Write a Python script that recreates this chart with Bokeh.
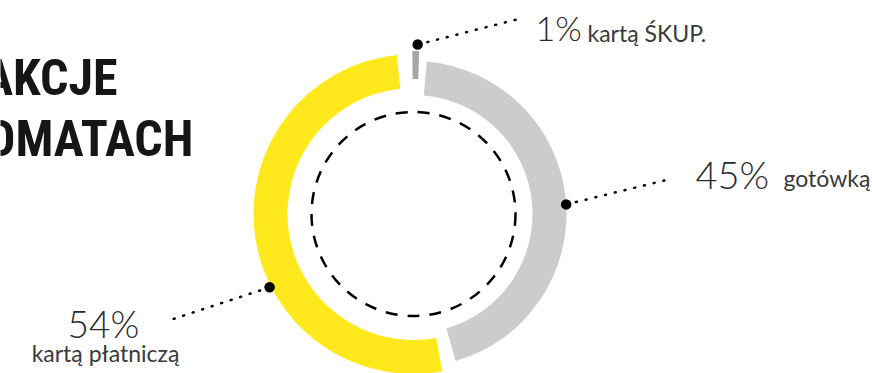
import math
from bokeh.plotting import figure
from bokeh.models import Range1d
from bokeh.core.properties import value
from bokeh.embed import file_html
from bokeh.resources import INLINE

# ---- data ----
categories = ["kartą ŚKUP.", "gotówką", "kartą płatniczą"]
values = [1, 45, 54]
pct_labels = ["1%", "45%", "54%"]
title_lines = ["TRANSAKCJE", "W BILETOMATACH"]

# ---- style ----
colors = ["#a6a6a6", "#cccccc", "#ffe91c"]
inner_r = [135, 119, 126]
outer_r = [163, 153, 160]
pads = [(0.6, 0.6), (2.4, 0.6), (5.0, 5.0)]
rotation = -1.0
cx, cy = 413.0, -213.5
anchor_theta = [1.4, 86.4, 243.0]
anchor_extra = [6.5, 0.0, 1.5]
leader_end = [(520, -18), (668, -179), (168, -320)]

W, H = 872, 373
p = figure(width=W, height=H, output_backend="svg", toolbar_location=None,
           x_range=Range1d(0, W), y_range=Range1d(-H, 0),
           x_axis_type=None, y_axis_type=None, min_border=0,
           background_fill_color="white", border_fill_color="white")
p.outline_line_color = None
p.grid.visible = False

# ring segments (clockwise from top)
total = float(sum(values))
start = rotation
for i, v in enumerate(values):
    span = 360.0 * v / total
    t1 = start + pads[i][0]
    t2 = start + span - pads[i][1]
    start += span
    p.annular_wedge(x=cx, y=cy, inner_radius=inner_r[i], outer_radius=outer_r[i],
                    start_angle=90 - t2, end_angle=90 - t1, start_angle_units="deg",
                    end_angle_units="deg", fill_color=colors[i], line_color=None)

# inner dashed circle
p.circle(x=cx, y=cy, radius=102, fill_color=None, line_color="black",
         line_width=2.5, line_dash="12 10")

# leader lines and dots
for i in range(len(values)):
    r = outer_r[i] + anchor_extra[i]
    th = math.radians(anchor_theta[i])
    ax = cx + r * math.sin(th)
    ay = cy + r * math.cos(th)
    ex, ey = leader_end[i]
    p.line([ax, ex], [ay, ey], line_color="black", line_width=2.5,
           line_dash="1 9", line_cap="round")
    p.scatter([ax], [ay], size=10.5, fill_color="black", line_color=None)

num_font = value("Lato Light")
txt_font = value("Lato")
num_color = "#2b2b2b"
txt_color = "#3a3a3a"


def label(x, y, t, font, size, color, align, style="normal"):
    p.text(x=[x], y=[y], text=[t], text_font=font, text_font_size=size,
           text_font_style=style, text_color=color, text_baseline="middle",
           text_align=align)


# ŚKUP
label(535, -27, pct_labels[0], num_font, "34px", num_color, "left")
label(587, -32, categories[0], txt_font, "23px", txt_color, "left")
# gotówka
label(695, -173, pct_labels[1], num_font, "38px", num_color, "left")
label(783, -177, categories[1], txt_font, "23px", txt_color, "left")
# karta płatnicza
label(103, -322.5, pct_labels[2], num_font, "37px", num_color, "center")
label(105, -352, categories[2], txt_font, "23px", txt_color, "center")

# title (cut off at the left like the original)
title_font = value("Roboto Condensed")
label(117, -77.5, title_lines[0], title_font, "50px", "#161616", "right", "bold")
label(193, -138.5, title_lines[1], title_font, "50px", "#161616", "right", "bold")

open("out.html", "w").write(file_html(p, INLINE))
